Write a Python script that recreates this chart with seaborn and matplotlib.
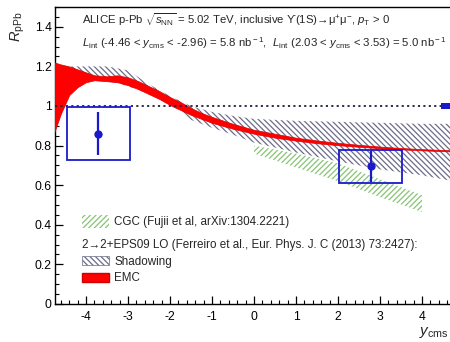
import numpy as np
import pandas as pd
import matplotlib
matplotlib.use("Agg")
import matplotlib.pyplot as plt
from matplotlib.patches import Patch
from matplotlib.ticker import MultipleLocator, FixedLocator, FixedFormatter
import seaborn as sns

# ---------------- data ----------------
# ALICE inclusive Upsilon(1S) R_pPb
alice_y = [-3.71, 2.78]
alice_r = [0.86, 0.695]
alice_stat = [0.11, 0.08]
alice_syst = [0.135, 0.083]
alice_ylo = [-4.46, 2.03]
alice_yhi = [-2.96, 3.53]
glob_x = [4.6]
glob_halfwidth = [0.15]
glob_unc = [0.014]

# EMC (2->2 + EPS09 LO) band
emc_x = [-4.75, -4.6, -4.4, -4.2, -4.0, -3.8, -3.5, -3.25, -3.0, -2.75, -2.5, -2.25,
         -2.0, -1.75, -1.5, -1.25, -1.0, -0.5, 0.0, 0.5, 1.0, 1.5, 2.0, 2.5, 3.0, 3.5, 4.0, 4.75]
emc_lo = [0.87, 0.96, 1.055, 1.095, 1.12, 1.13, 1.125, 1.12, 1.105, 1.085, 1.06, 1.035,
          1.005, 0.98, 0.955, 0.935, 0.915, 0.885, 0.86, 0.84, 0.825, 0.812, 0.802, 0.794,
          0.787, 0.781, 0.776, 0.770]
emc_hi = [1.22, 1.21, 1.20, 1.185, 1.17, 1.155, 1.15, 1.155, 1.145, 1.125, 1.10, 1.075,
          1.045, 1.02, 0.99, 0.965, 0.945, 0.91, 0.88, 0.86, 0.84, 0.826, 0.814, 0.804,
          0.795, 0.788, 0.782, 0.776]

# Shadowing band
shd_x = [-4.75, -4.0, -3.5, -3.0, -2.5, -2.0, -1.5, -1.0, -0.5, 0.0, 1.0, 2.0, 3.0, 4.0, 4.75]
shd_lo = [1.12, 1.13, 1.13, 1.10, 1.06, 1.01, 0.93, 0.89, 0.855, 0.815, 0.765, 0.72, 0.68, 0.65, 0.62]
shd_hi = [1.20, 1.20, 1.20, 1.18, 1.11, 1.05, 1.00, 0.97, 0.95, 0.935, 0.925, 0.92, 0.915, 0.91, 0.91]

# CGC band
cgc_x = [0.0, 1.0, 2.0, 3.0, 4.0]
cgc_lo = [0.76, 0.69, 0.62, 0.54, 0.465]
cgc_hi = [0.80, 0.76, 0.71, 0.63, 0.55]

x_ticks = [-4, -3, -2, -1, 0, 1, 2, 3, 4]
x_ticklabels = ["-4", "-3", "-2", "-1", "0", "1", "2", "3", "4"]
y_ticks = [0, 0.2, 0.4, 0.6, 0.8, 1.0, 1.2, 1.4]
y_ticklabels = ["0", "0.2", "0.4", "0.6", "0.8", "1", "1.2", "1.4"]

header1 = r"ALICE p-Pb $\sqrt{s_{\rm NN}}$ = 5.02 TeV, inclusive ϒ(1S)→μ$^{+}$μ$^{-}$, $p_{\rm T}$ > 0"
header2 = r"$L_{\rm int}$ (-4.46 < $y_{\rm cms}$ < -2.96) = 5.8 nb$^{\rm -1}$,  $L_{\rm int}$ (2.03 < $y_{\rm cms}$ < 3.53) = 5.0 nb$^{\rm -1}$"
cgc_label = "CGC (Fujii et al, arXiv:1304.2221)"
model_title = "2→2+EPS09 LO (Ferreiro et al., Eur. Phys. J. C (2013) 73:2427):"
shd_label = "Shadowing"
emc_label = "EMC"

# ---------------- style ----------------
sns.set_style("ticks")
plt.rcParams["font.family"] = ["Liberation Sans", "DejaVu Sans"]
plt.rcParams["mathtext.fontset"] = "custom"
plt.rcParams["mathtext.rm"] = "Liberation Sans"
plt.rcParams["mathtext.it"] = "Liberation Sans:italic"
plt.rcParams["mathtext.bf"] = "Liberation Sans:bold"
plt.rcParams["axes.unicode_minus"] = False
plt.rcParams["hatch.linewidth"] = 0.9

green = "#86c474"
gray = "#6c6c88"
red = "#ff0000"
blue = "#1a1acc"

W, H = 450, 342
fig = plt.figure(figsize=(W / 100, H / 100), dpi=100)
ax = fig.add_axes([54.5 / W, 38 / H, 399 / W, 297 / H])

# CGC
ax.fill_between(cgc_x, cgc_lo, cgc_hi, facecolor="none", edgecolor=green,
                hatch="//////", linewidth=0, zorder=1)
# Shadowing
ax.fill_between(shd_x, shd_lo, shd_hi, facecolor="none", edgecolor=gray,
                hatch="\\\\\\\\\\\\", linewidth=0, zorder=2)
# EMC
ax.fill_between(emc_x, emc_lo, emc_hi, facecolor=red, edgecolor="#e00000",
                linewidth=0.5, zorder=3)

ax.axhline(1.0, color="#202040", linestyle=(0, (1.2, 1.8)), linewidth=1.3, zorder=4)

# systematic boxes
centers = [(a + b) / 2 for a, b in zip(alice_ylo, alice_yhi)]
widths = [b - a for a, b in zip(alice_ylo, alice_yhi)]
bottoms = [r - s for r, s in zip(alice_r, alice_syst)]
heights = [2 * s for s in alice_syst]
ax.bar(centers, heights, width=widths, bottom=bottoms, fill=False,
       edgecolor=blue, linewidth=1.3, zorder=5)
# global uncertainty
ax.bar(glob_x, [2 * u for u in glob_unc], width=[2 * w for w in glob_halfwidth],
       bottom=[1 - u for u in glob_unc], color=blue, linewidth=0, zorder=5)
# stat errors + points
ax.errorbar(alice_y, alice_r, yerr=alice_stat, fmt="none", ecolor=blue,
            elinewidth=1.6, capsize=0, zorder=6)
df = pd.DataFrame({"y": alice_y, "r": alice_r})
sns.scatterplot(data=df, x="y", y="r", ax=ax, color=blue, s=36,
                edgecolor=blue, linewidth=0, zorder=7, legend=False)

ax.set_xlim(-4.75, 4.75)
ax.set_ylim(0, 1.5)
ax.xaxis.set_major_locator(FixedLocator(x_ticks))
ax.xaxis.set_major_formatter(FixedFormatter(x_ticklabels))
ax.yaxis.set_major_locator(FixedLocator(y_ticks))
ax.yaxis.set_major_formatter(FixedFormatter(y_ticklabels))
ax.xaxis.set_minor_locator(MultipleLocator(0.2))
ax.yaxis.set_minor_locator(MultipleLocator(0.05))
ax.tick_params(which="both", direction="in", colors="black", labelsize=8.7)
ax.tick_params(which="major", length=6, width=0.9)
ax.tick_params(which="minor", length=3, width=0.8)
ax.tick_params(axis="y", which="major", pad=2)
ax.tick_params(axis="x", which="major", pad=5)
ax.set_xlabel("")
ax.set_ylabel("")
for sp in ["left", "bottom", "top", "right"]:
    ax.spines[sp].set_visible(True)
    ax.spines[sp].set_linewidth(1.0)
    ax.spines[sp].set_color("black")

# texts
fig.text(82 / W, 1 - 20 / H, header1, fontsize=8.2, ha="left", va="center")
fig.text(82 / W, 1 - 43 / H, header2, fontsize=8.2, ha="left", va="center")
fig.text(18 / W, 1 - 27 / H, r"$R_{\rm pPb}$", fontsize=10.5, rotation=90,
         ha="center", va="center")
fig.text(449 / W, 2 / H, r"$y_{\rm cms}$", fontsize=11, ha="right", va="bottom")

# legends
h_cgc = Patch(facecolor="none", edgecolor=green, hatch="//////", linewidth=0)
leg1 = ax.legend([h_cgc], [cgc_label], loc="upper left",
                 bbox_to_anchor=(82 / W, 1 - 215 / H), bbox_transform=fig.transFigure,
                 frameon=False, fontsize=8.4, handlelength=2.3, handleheight=1.3,
                 handletextpad=0.45, borderpad=0, borderaxespad=0)
ax.add_artist(leg1)
h_shd = Patch(facecolor="none", edgecolor=gray, hatch="\\\\\\\\\\\\", linewidth=0.5)
h_emc = Patch(facecolor=red, edgecolor="#d00000", linewidth=1.0)
leg2 = ax.legend([h_shd, h_emc], [shd_label, emc_label], title=model_title,
                 title_fontsize=8.4, alignment="left", loc="upper left",
                 bbox_to_anchor=(82 / W, 1 - 239 / H), bbox_transform=fig.transFigure,
                 frameon=False, fontsize=8.4, handlelength=2.3, handleheight=0.8,
                 handletextpad=0.45, labelspacing=0.4, borderpad=0, borderaxespad=0)

fig.savefig("out.png", dpi=100)
